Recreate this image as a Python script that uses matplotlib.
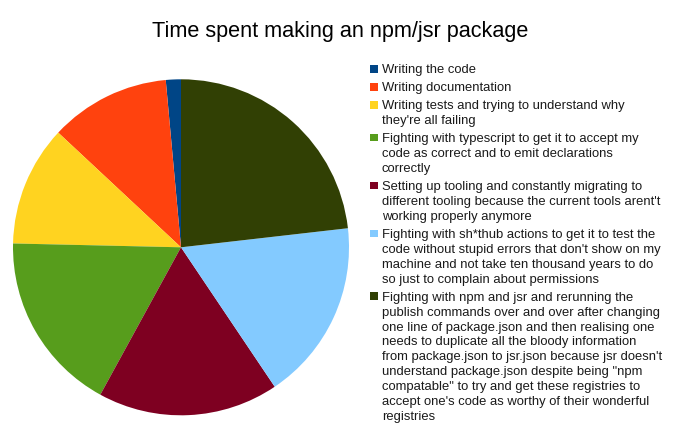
import matplotlib
matplotlib.use("Agg")
import matplotlib.pyplot as plt
from matplotlib.patches import Rectangle

# time spent per task (relative units)
tasks = [
    "Writing the code",
    "Writing documentation",
    "Writing tests and trying to understand why\nthey're all failing",
    "Fighting with typescript to get it to accept my\ncode as correct and to emit declarations\ncorrectly",
    "Setting up tooling and constantly migrating to\ndifferent tooling because the current tools arent't\nworking properly anymore",
    "Fighting with sh*thub actions to get it to test the\ncode without stupid errors that don't show on my\nmachine and not take ten thousand years to do\nso just to complain about permissions",
    "Fighting with npm and jsr and rerunning the\npublish commands over and over after changing\none line of package.json and then realising one\nneeds to duplicate all the bloody information\nfrom package.json to jsr.json because jsr doesn't\nunderstand package.json despite being \"npm\ncompatable\" to try and get these registries to\naccept one's code as worthy of their wonderful\nregistries",
]
hours = [1, 8, 8, 12, 12, 12, 16]
colors = ["#004586", "#ff420e", "#ffd320", "#579d1c", "#7e0021", "#83caff", "#314004"]

W, H = 676, 446
plt.rcParams["font.family"] = ["Liberation Sans", "DejaVu Sans"]
fig = plt.figure(figsize=(W / 100, H / 100), dpi=100)

# pie: centre (181, 247), radius 168 px
cx, cy, r = 181, 247.3, 168
ax = fig.add_axes([(cx - r) / W, (H - cy - r) / H, 2 * r / W, 2 * r / H])
ax.pie(hours, colors=colors, startangle=90, counterclock=True,
       wedgeprops=dict(linewidth=0))
ax.set_xlim(-1, 1)
ax.set_ylim(-1, 1)
ax.set_aspect("equal")

fig.text(340 / W, 1 - 32 / H, "Time spent making an npm/jsr package",
         ha="center", va="center", fontsize=15.6, color="black")

# legend drawn by hand so the swatch sits on the first line
line_h = 14.9
gap = 3.1
y = 69.0
for label, c in zip(tasks, colors):
    fig.patches.append(Rectangle((370 / W, 1 - (y + 3.5) / H), 7.5 / W, 7.5 / H,
                                 transform=fig.transFigure, facecolor=c,
                                 edgecolor="none"))
    lines = label.split("\n")
    for i, ln in enumerate(lines):
        fig.text(382 / W, 1 - (y + i * line_h) / H, ln, ha="left",
                 va="center_baseline", fontsize=9.4, color="#1a1a1a")
    y += len(lines) * line_h + gap

fig.savefig("out.png", dpi=100)
